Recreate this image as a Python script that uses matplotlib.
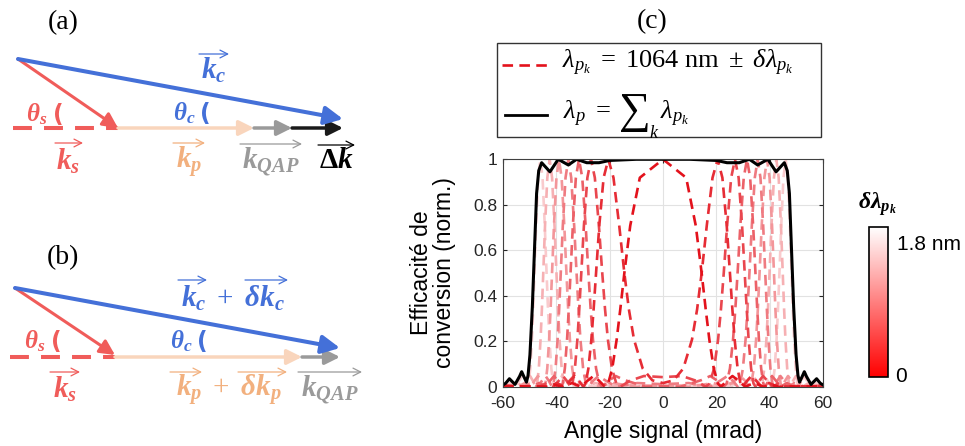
import numpy as np
import matplotlib
matplotlib.use("Agg")
import matplotlib as mpl
import matplotlib.pyplot as plt
from matplotlib.colors import LinearSegmentedColormap
from matplotlib.patches import Rectangle

plt.rcParams['font.family'] = ['Liberation Sans', 'DejaVu Sans']
plt.rcParams['axes.unicode_minus'] = False
plt.rcParams['mathtext.fontset'] = 'custom'
plt.rcParams['mathtext.rm'] = 'Liberation Serif'
plt.rcParams['mathtext.it'] = 'Liberation Serif:italic'
plt.rcParams['mathtext.bf'] = 'Liberation Serif:italic:bold'
plt.rcParams['mathtext.sf'] = 'Liberation Serif:bold'

# ---- data of panel (c) ----
angle_ticks = [-60, -40, -20, 0, 20, 40, 60]
eff_ticks = [0, 0.2, 0.4, 0.6, 0.8, 1]
eff_tick_labels = ['0', '0.2', '0.4', '0.6', '0.8', '1']

# black curve (lambda_p = sum), half x >= 0, the curve is symmetric
sum_angle = [0, 10, 20, 24, 28.6, 32.4, 35.5, 39.3, 42.4, 45.5, 46.6, 47.4, 48.2,
             49.0, 49.9, 50.6, 51.2, 52.2, 53.0, 53.8, 55.5, 57.6, 59.0, 60]
sum_eff = [1.0, 1.0, 0.995, 0.985, 0.985, 1.0, 0.975, 1.0, 0.945, 0.985, 0.95, 0.85, 0.6,
           0.35, 0.14, 0.05, 0.02, 0.045, 0.066, 0.045, 0.01, 0.035, 0.015, 0.008]

# red dashed curves, one per delta lambda (half x >= 0)
dl_values = [0, 0.2, 0.4, 0.6, 0.8, 1.0, 1.2, 1.4]  # nm
red_angle = [
    [0, 8.69, 12.29, 14.49, 16.02, 17.38, 19.04, 20.56, 21.78, 23.95, 26.04, 28.02,
     30.8, 34.16, 37.72, 40.6, 43.6, 60],
    [0, 4.0, 7.61, 10.87, 12.79, 14.5, 16.41, 18.57, 20.5, 22.27, 23.9, 25.1, 26.02,
     26.87, 27.98, 29.04, 29.91, 31.53, 33.14, 34.72, 37.0, 39.8, 42.9, 60],
    [0, 7.14, 12.46, 15.96, 17.5, 19.15, 20.66, 21.73, 22.78, 24.04, 25.56, 27.0,
     28.36, 29.66, 30.64, 31.4, 32.11, 33.04, 33.94, 34.69, 36.09, 37.51, 38.91,
     40.96, 43.6, 46.4, 60],
    [0, 6.59, 14.39, 17.73, 20.46, 22.76, 23.86, 25.1, 26.27, 27.12, 27.97, 29.0,
     30.28, 31.5, 32.68, 33.81, 34.67, 35.34, 35.98, 36.81, 37.62, 38.3, 39.57,
     40.87, 42.16, 44.06, 46.47, 49.15, 60],
    [0, 9.64, 17.65, 21.8, 24.13, 26.2, 28.03, 28.94, 29.96, 30.96, 31.68, 32.41,
     33.31, 34.42, 35.5, 36.55, 37.57, 38.34, 38.95, 39.53, 40.28, 41.03, 41.65,
     42.83, 44.03, 45.23, 47.0, 49.27, 51.8, 60],
    [0, 9.9, 18.81, 23.92, 27.13, 29.03, 30.78, 32.35, 33.14, 34.04, 34.91, 35.56,
     36.21, 37.01, 38.02, 39.0, 39.96, 40.89, 41.61, 42.16, 42.7, 43.4, 44.09, 44.67,
     45.77, 46.89, 48.02, 49.7, 51.85, 54.26, 60],
    [0, 12.6, 19.58, 25.28, 29.28, 31.95, 33.59, 35.11, 36.49, 37.19, 38.0, 38.78,
     39.36, 39.95, 40.68, 41.6, 42.5, 43.38, 44.24, 44.9, 45.42, 45.92, 46.57, 47.21,
     47.76, 48.79, 49.84, 50.91, 52.49, 54.53, 56.83, 60],
    [0, 14.76, 21.68, 26.32, 30.81, 34.16, 36.48, 37.92, 39.27, 40.52, 41.15, 41.88,
     42.59, 43.12, 43.66, 44.33, 45.17, 46.0, 46.81, 47.61, 48.23, 48.71, 49.17,
     49.78, 50.39, 50.9, 51.86, 52.86, 53.86, 55.36, 57.3, 59.49, 60],
]
red_eff = [
    [1, 0.919, 0.708, 0.5, 0.34, 0.207, 0.08, 0.014, 0, 0.026, 0.047, 0.029,
     0, 0.016, 0, 0.008, 0, 0.003],
    [0.016, 0.028, 0.08, 0.207, 0.34, 0.5, 0.708, 0.919, 1, 0.919, 0.708, 0.5, 0.34,
     0.207, 0.08, 0.014, 0, 0.026, 0.047, 0.029, 0, 0.016, 0, 0.003],
    [0.042, 0.047, 0.026, 0, 0.014, 0.08, 0.207, 0.34, 0.5, 0.708, 0.919, 1,
     0.919, 0.708, 0.5, 0.34, 0.207, 0.08, 0.014, 0, 0.026, 0.047, 0.029,
     0, 0.016, 0, 0.003],
    [0.002, 0, 0.029, 0.047, 0.026, 0, 0.014, 0.08, 0.207, 0.34, 0.5, 0.708,
     0.919, 1, 0.919, 0.708, 0.5, 0.34, 0.207, 0.08, 0.014, 0, 0.026,
     0.047, 0.029, 0, 0.016, 0, 0.003],
    [0.011, 0.016, 0, 0.029, 0.047, 0.026, 0, 0.014, 0.08, 0.207, 0.34, 0.5,
     0.708, 0.919, 1, 0.919, 0.708, 0.5, 0.34, 0.207, 0.08, 0.014, 0,
     0.026, 0.047, 0.029, 0, 0.016, 0, 0.004],
    [0.004, 0, 0.016, 0, 0.029, 0.047, 0.026, 0, 0.014, 0.08, 0.207, 0.34,
     0.5, 0.708, 0.919, 1, 0.919, 0.708, 0.5, 0.34, 0.207, 0.08, 0.014, 0,
     0.026, 0.047, 0.029, 0, 0.016, 0, 0.004],
    [0.004, 0.008, 0, 0.016, 0, 0.029, 0.047, 0.026, 0, 0.014, 0.08, 0.207,
     0.34, 0.5, 0.708, 0.919, 1, 0.919, 0.708, 0.5, 0.34, 0.207, 0.08, 0.014,
     0, 0.026, 0.047, 0.029, 0, 0.016, 0, 0.005],
    [0.004, 0, 0.008, 0, 0.016, 0, 0.029, 0.047, 0.026, 0, 0.014, 0.08,
     0.207, 0.34, 0.5, 0.708, 0.919, 1, 0.919, 0.708, 0.5, 0.34, 0.207,
     0.08, 0.014, 0, 0.026, 0.047, 0.029, 0, 0.016, 0, 0.002],
]
dl_max = 1.8

# ---- diagrams (a) and (b), in figure pixels ----
a_origin = (18, 59)
a_kc_tip = (343, 119)
a_ks_tip = (118, 128)
a_base = [13, 118, 254, 292, 343]   # dashed start, kp start, kqap start, dk start, end
a_y = 128
b_origin = (15, 288)
b_kc_tip = (340, 348)
b_ks_tip = (115, 355)
b_base = [10, 115, 302, 340]
b_y = 357

BLUE = '#4470d8'
RED = '#f05c5a'
PEACH = '#f9d5bc'
PEACH_TXT = '#f2b07e'
GRAY = '#9a9a9a'

W, H = 965, 446
fig = plt.figure(figsize=(W / 100, H / 100), dpi=100)

ov = fig.add_axes([0, 0, 1, 1])
ov.set_xlim(0, W)
ov.set_ylim(H, 0)
ov.axis('off')


def arrow(p0, p1, color, lw, hl=0.9, hw=0.45):
    ov.annotate('', xy=p1, xytext=p0,
                arrowprops=dict(arrowstyle='-|>,head_length=%g,head_width=%g' % (hl, hw),
                                lw=lw, color=color, shrinkA=0, shrinkB=0,
                                mutation_scale=10))


def over_arrow(x0, x1, y, color):
    ov.annotate('', xy=(x1, y), xytext=(x0, y),
                arrowprops=dict(arrowstyle='->,head_length=0.55,head_width=0.28',
                                lw=0.9, color=color, shrinkA=0, shrinkB=0,
                                mutation_scale=10))


def angle_label(x, y, name, color):
    ov.text(x, y, r'$\mathbf{\theta_%s}$' % name, color=color, size=18,
            ha='center', va='center')
    ov.text(x + 21, y + 1, '(', color=color, size=17, family='DejaVu Sans',
            weight='bold', ha='center', va='center')


# diagram (a)
ov.plot([a_base[0], a_base[1]], [a_y, a_y], color=RED, lw=2.9, dashes=(4.7, 3.0))
arrow((a_base[1], a_y), (a_base[2], a_y), PEACH, 2.5)
arrow((a_base[2], a_y), (a_base[3], a_y), GRAY, 2.5)
arrow((a_base[3], a_y), (a_base[4], a_y), '#1a1a1a', 2.5)
arrow(a_origin, a_ks_tip, RED, 2.2)
arrow(a_origin, a_kc_tip, BLUE, 2.9, 1.1, 0.55)

# diagram (b)
ov.plot([b_base[0], b_base[1]], [b_y, b_y], color=RED, lw=2.9, dashes=(4.7, 3.0))
arrow((b_base[1], b_y), (b_base[2], b_y), PEACH, 2.5)
arrow((b_base[2], b_y), (b_base[3], b_y), GRAY, 2.5)
arrow(b_origin, b_ks_tip, RED, 2.2)
arrow(b_origin, b_kc_tip, BLUE, 2.9, 1.1, 0.55)

kw = dict(ha='center', va='center')
ov.text(63, 23, '(a)', size=20, family='Liberation Serif', **kw)
ov.text(214, 70, r'$\mathbf{k_c}$', color=BLUE, size=21, **kw)
over_arrow(199, 229, 54, BLUE)
angle_label(37, 114, 's', RED)
angle_label(184, 113, 'c', BLUE)
ov.text(68, 161, r'$\mathbf{k_s}$', color=RED, size=21, **kw)
over_arrow(55, 83, 143, RED)
ov.text(189, 162, r'$\mathbf{k_p}$', color=PEACH_TXT, size=21, **kw)
over_arrow(173, 205, 143, PEACH_TXT)
ov.text(271, 162, r'$\mathbf{k_{QAP}}$', color=GRAY, size=21, **kw)
over_arrow(240, 302, 144, GRAY)
ov.text(336, 160, r'$\mathsf{\Delta}\mathbf{k}$', color='black', size=21, **kw)
over_arrow(318, 355, 145, 'black')

ov.text(63, 258, '(b)', size=20, family='Liberation Serif', **kw)
ov.text(233, 298, r'$\mathbf{k_c}\ +\ \mathbf{\delta k_c}$', color=BLUE, size=21, **kw)
over_arrow(178, 207, 280, BLUE)
over_arrow(245, 288, 280, BLUE)
angle_label(35, 341, 's', RED)
angle_label(181, 341, 'c', BLUE)
ov.text(65, 389, r'$\mathbf{k_s}$', color=RED, size=21, **kw)
over_arrow(50, 80, 372, RED)
ov.text(229, 391, r'$\mathbf{k_p}\ +\ \mathbf{\delta k_p}$', color=PEACH_TXT, size=21, **kw)
over_arrow(170, 202, 372, PEACH_TXT)
over_arrow(238, 287, 372, PEACH_TXT)
ov.text(330, 390, r'$\mathbf{k_{QAP}}$', color=GRAY, size=21, **kw)
over_arrow(298, 362, 372, GRAY)

# panel (c)
ov.text(652, 22, '(c)', size=20, family='Liberation Serif', **kw)

cmap = LinearSegmentedColormap.from_list('red_white', ['#ff0000', '#ffffff'])
line_cmap = LinearSegmentedColormap.from_list('red_white_l', ['#e3121c', '#ffffff'])

# legend box
ov.add_patch(Rectangle((497, 43), 324, 94, fill=False, edgecolor='#333333', lw=1))
ov.plot([502, 547], [65, 65], color=line_cmap(0.0), lw=1.9, dashes=(4, 2.4))
ov.plot([505, 547], [115, 115], color='black', lw=2)
ov.text(562, 68, r'$\lambda_{p_k}\ =\ 1064\ \mathrm{nm}\ \pm\ \delta\lambda_{p_k}$',
        size=19, va='baseline', ha='left')
ov.text(563, 119, r'$\lambda_p\ =$', size=19, va='baseline', ha='left')
ov.text(619, 112, '\u2211', size=32, family='Liberation Serif', va='center', ha='left')
ov.text(654, 134, r'$k$', size=13, va='center', ha='center')
ov.text(660, 119, r'$\lambda_{p_k}$', size=19, va='baseline', ha='left')

ax = fig.add_axes([503 / W, 1 - 386.7 / H, 320 / W, 227.4 / H])
for i in range(len(dl_values) - 1, -1, -1):
    x = np.array(red_angle[i])
    y = np.array(red_eff[i])
    xs = np.concatenate([-x[:0:-1], x])
    ys = np.concatenate([y[:0:-1], y])
    ax.plot(xs, ys, color=line_cmap(dl_values[i] / dl_max), lw=1.9, dashes=(4, 2.4))

x = np.array(sum_angle)
y = np.array(sum_eff)
ax.plot(np.concatenate([-x[:0:-1], x]), np.concatenate([y[:0:-1], y]),
        color='black', lw=2.2)

ax.set_xlim(-60, 60)
ax.set_ylim(0, 1)
ax.set_xticks(angle_ticks)
ax.set_yticks(eff_ticks)
ax.set_yticklabels(eff_tick_labels)
ax.grid(True, color='#e2e2e2', lw=0.8)
ax.set_axisbelow(True)
ax.tick_params(direction='in', length=3, top=True, right=True, labelsize=12.5,
               colors='#262626', pad=4)
ax.tick_params(axis='x', pad=6.5)
for s in ax.spines.values():
    s.set_color('#404040')
    s.set_linewidth(0.8)
ax.set_xlabel('Angle signal (mrad)', size=16.5, labelpad=7)
ax.set_ylabel('Efficacité de\nconversion (norm.)', size=16.5, linespacing=1.0)
ax.yaxis.set_label_coords(-0.148, 0.5)

# colorbar
cax = fig.add_axes([869 / W, 1 - 376.7 / H, 18.7 / W, 150 / H])
cb = mpl.colorbar.ColorbarBase(cax, cmap=cmap, norm=mpl.colors.Normalize(0, dl_max))
cb.set_ticks([])
cb.outline.set_edgecolor('black')
cb.outline.set_linewidth(1.2)
ov.text(897, 244, '1.8 nm', size=15, va='center', ha='left')
ov.text(895, 377, '0', size=15, va='center', ha='left')
ov.text(877, 204, r'$\mathbf{\delta\lambda_{p_k}}$', size=17, **kw)

fig.savefig('out.png', dpi=100)
